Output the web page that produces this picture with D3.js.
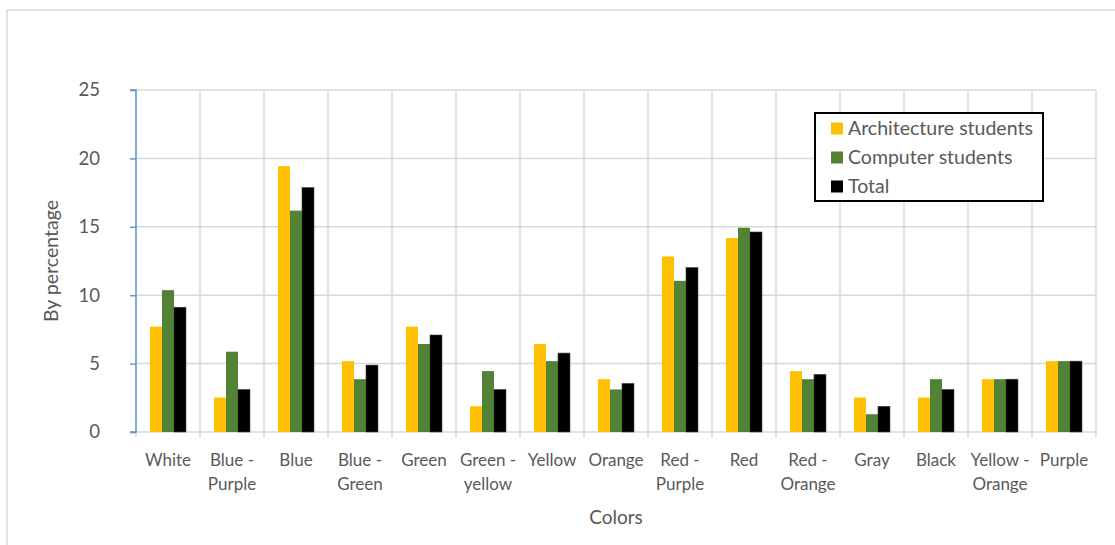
<!DOCTYPE html>
<html>
<head>
<meta charset="utf-8">
<script src="https://cdn.jsdelivr.net/npm/d3@7"></script>
<style>
  html, body { margin: 0; padding: 0; background: #fff; }
  svg { display: block; }
  text { font-family: Lato, "Open Sans", sans-serif; fill: #595959; }
</style>
</head>
<body>
<svg id="chart" width="1115" height="545"></svg>
<script>
const categories = ["White", "Blue - Purple", "Blue", "Blue - Green", "Green", "Green - yellow", "Yellow", "Orange", "Red - Purple", "Red", "Red - Orange", "Gray", "Black", "Yellow - Orange", "Purple"];
const seriesNames = ["Architecture students", "Computer students", "Total"];
const architecture = [7.7, 2.52, 19.43, 5.18, 7.7, 1.88, 6.43, 3.86, 12.83, 14.18, 4.45, 2.52, 2.52, 3.86, 5.18];
const computer     = [10.37, 5.87, 16.18, 3.86, 6.43, 4.45, 5.18, 3.11, 11.05, 14.93, 3.86, 1.30, 3.86, 3.86, 5.18];
const total        = [9.12, 3.11, 17.87, 4.89, 7.09, 3.11, 5.77, 3.55, 12.02, 14.62, 4.21, 1.88, 3.11, 3.86, 5.18];
const yTicks = [0, 5, 10, 15, 20, 25];
const seriesColors = ["#FFC000", "#548235", "#000000"];

const seriesValues = [architecture, computer, total];
const svg = d3.select("#chart");

// outer chart frame
svg.append("rect").attr("x", 7).attr("y", 10).attr("width", 1130).attr("height", 560)
  .attr("fill", "none").attr("stroke", "#d9d9d9").attr("stroke-width", 1.5);

const pLeft = 136, pRight = 1096, pTop = 90, pBottom = 432;

const x0 = d3.scaleBand().domain(categories).range([pLeft, pRight]).padding(0);
const x1 = d3.scaleBand().domain(seriesNames).range([0, x0.bandwidth()]).paddingInner(0).paddingOuter(1.17);
const y = d3.scaleLinear().domain([0, 25]).range([pBottom, pTop]);

// horizontal gridlines
svg.append("g").selectAll("line").data(yTicks).join("line")
  .attr("x1", pLeft).attr("x2", pRight)
  .attr("y1", d => y(d)).attr("y2", d => y(d))
  .attr("stroke", "#d9d9d9").attr("stroke-width", 1.5);

// vertical gridlines (category boundaries)
const boundaries = categories.map(c => x0(c)).concat([pRight]);
svg.append("g").selectAll("line").data(boundaries).join("line")
  .attr("x1", d => d).attr("x2", d => d)
  .attr("y1", pTop).attr("y2", pBottom + 5)
  .attr("stroke", "#d9d9d9").attr("stroke-width", 1.5);

// bars
const groups = svg.append("g").selectAll("g").data(categories).join("g")
  .attr("transform", c => `translate(${x0(c)},0)`);
groups.selectAll("rect").data((c, i) => seriesNames.map((s, k) => ({ s, k, v: seriesValues[k][i] })))
  .join("rect")
  .attr("x", d => x1(d.s))
  .attr("width", x1.bandwidth())
  .attr("y", d => y(d.v))
  .attr("height", d => y(0) - y(d.v))
  .attr("fill", d => seriesColors[d.k])
  .attr("stroke", d => d.k === 2 ? "#404040" : "none")
  .attr("stroke-width", 0.6);

// left axis (blue)
const yAxis = d3.axisLeft(y).tickValues(yTicks).tickSize(6).tickPadding(30);
const gy = svg.append("g").attr("transform", `translate(${pLeft},0)`).call(yAxis);
gy.select(".domain").attr("stroke", "#5B9BD5").attr("stroke-width", 1.5).attr("d", `M-6,${pTop}H0V${pBottom}H-6`);
gy.selectAll(".tick line").attr("stroke", "#5B9BD5").attr("stroke-width", 1.5);
gy.selectAll(".tick text").style("font-size", "18.5px").attr("fill", "#595959")
  .style("font-family", "Lato, sans-serif");

// category labels (wrapped at " - ")
const labels = svg.append("g").selectAll("text").data(categories).join("text")
  .attr("text-anchor", "middle")
  .attr("x", c => x0(c) + x0.bandwidth() / 2)
  .attr("y", 466)
  .style("font-size", "17px");
labels.each(function (c) {
  const parts = c.includes(" - ") ? [c.split(" - ")[0] + " -", c.split(" - ")[1]] : [c];
  const t = d3.select(this);
  parts.forEach((p, i) => {
    t.append("tspan").attr("x", x0(c) + x0.bandwidth() / 2).attr("dy", i === 0 ? 0 : 24).text(p);
  });
});

// axis titles
svg.append("text").attr("x", (pLeft + pRight) / 2).attr("y", 524).attr("text-anchor", "middle")
  .style("font-size", "19px").text("Colors");
svg.append("text").attr("transform", `translate(58,${(pTop + pBottom) / 2}) rotate(-90)`)
  .attr("text-anchor", "middle").style("font-size", "19.5px").text("By percentage");

// legend
const lg = svg.append("g");
lg.append("rect").attr("x", 815).attr("y", 113).attr("width", 228).attr("height", 88)
  .attr("fill", "#fff").attr("stroke", "#000").attr("stroke-width", 2);
const items = lg.selectAll("g").data(seriesNames).join("g")
  .attr("transform", (d, i) => `translate(831,${128.5 + i * 29})`);
items.append("rect").attr("x", 0).attr("y", -6).attr("width", 12).attr("height", 12)
  .attr("fill", (d, i) => seriesColors[i]);
items.append("text").attr("x", 17).attr("y", 6.5).style("font-size", "19.5px").text(d => d);
</script>
</body>
</html>
